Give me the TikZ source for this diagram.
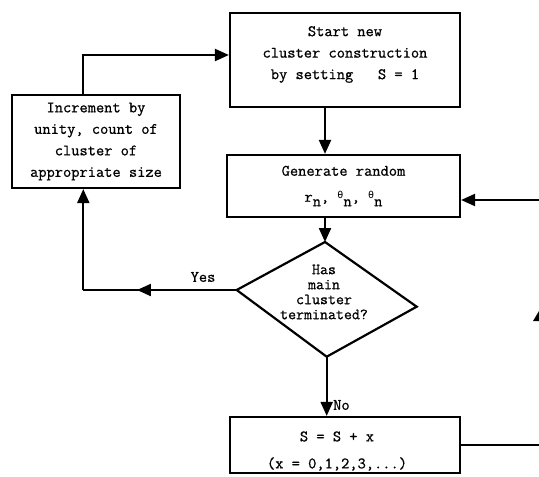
\documentclass[tikz,border=0pt]{standalone}
\usepackage{fontspec}
\setmonofont{Latin Modern Mono}[FakeBold=0.8]
\newfontfamily\grkfont{DejaVu Sans Mono}
\usetikzlibrary{arrows.meta,calc}
\newcommand{\thsym}{\raisebox{3pt}{\grkfont\fontsize{10}{10}\selectfont θ}}
\newcommand{\nsub}{\raisebox{-4.5pt}{n}}
\begin{document}
\begin{tikzpicture}[x=1pt,y=-1pt,
  every node/.style={font=\ttfamily\fontsize{16}{21.5}\selectfont},
  box/.style={draw, line width=2.2pt, inner sep=0pt, align=center},
  txt/.style={inner sep=0pt, align=center},
  conn/.style={line width=2.2pt},
  arr/.style={conn,-{Triangle[length=14pt,width=12pt]}},
  lbl/.style={inner sep=0pt}]
\useasboundingbox (0,0) rectangle (539,477);
% boxes
\node[box, minimum width=230pt, minimum height=94pt] (start) at (345,59.7) {};
\node[txt] (starttext) at (345,54.5)
  {Start new\\cluster construction\\by setting\ \ \ S = 1};
\node[box, minimum width=168pt, minimum height=93pt] (inc) at (96,141.5)
  {Increment by\\unity, count of\\cluster of\\appropriate size};
\node[box, minimum width=233pt, minimum height=62pt,
      font=\ttfamily\fontsize{16}{26}\selectfont] (gen) at (343.5,186)
  {Generate random\\r\nsub, \thsym\nsub, \thsym\nsub};
\node[box, minimum width=230pt, minimum height=56pt] (sbox) at (345,445) {};
\node[txt, font=\ttfamily\fontsize{16}{27}\selectfont] (stext) at (337,451)
  {S = S + x\\(x = 0,1,2,3,...)};
% diamond
\coordinate (dt) at (325,242);
\coordinate (dl) at (236.7,290);
\coordinate (dr) at (416.7,306.7);
\coordinate (db) at (326.7,356.7);
\draw[conn, line join=miter] (dt) -- (dr) -- (db) -- (dl) -- cycle;
\node[lbl, align=center, font=\ttfamily\fontsize{15.5}{15}\selectfont] (dtext) at (324,292)
  {Has\\main\\cluster\\terminated?};
% helper coordinates
\coordinate (lx) at (83.3,0);
\coordinate (ty) at (0,55);
\coordinate (rin) at (539,200);
\coordinate (rout) at (539,445);
% connectors
\draw[arr] (start.south -| dt) -- (gen.north -| dt);
\draw[arr] (gen.south -| dt) -- (dt);
\draw[arr] (db) -- (sbox.north -| db);
\draw[conn] (dl) -- (dl -| lx);
\draw[arr] (dl) -- ($(dl)!0.65!(dl -| lx)$);
\draw[arr] (dl -| lx) -- (inc.south -| lx);
\draw[arr] (inc.north -| lx) -- (lx |- ty) -- (start.west |- ty);
\draw[arr] (rin) -- (gen.east |- rin);
\draw[conn] (sbox.east |- rout) -- (rout);
% fragment of an arrowhead at the right edge
\fill (533,321) -- (539,311) -- (539,321) -- cycle;
% labels
\node[lbl] (yes) at (203,277) {Yes};
\node[lbl, anchor=west] (no) at (333,405) {No};
\end{tikzpicture}
\end{document}
